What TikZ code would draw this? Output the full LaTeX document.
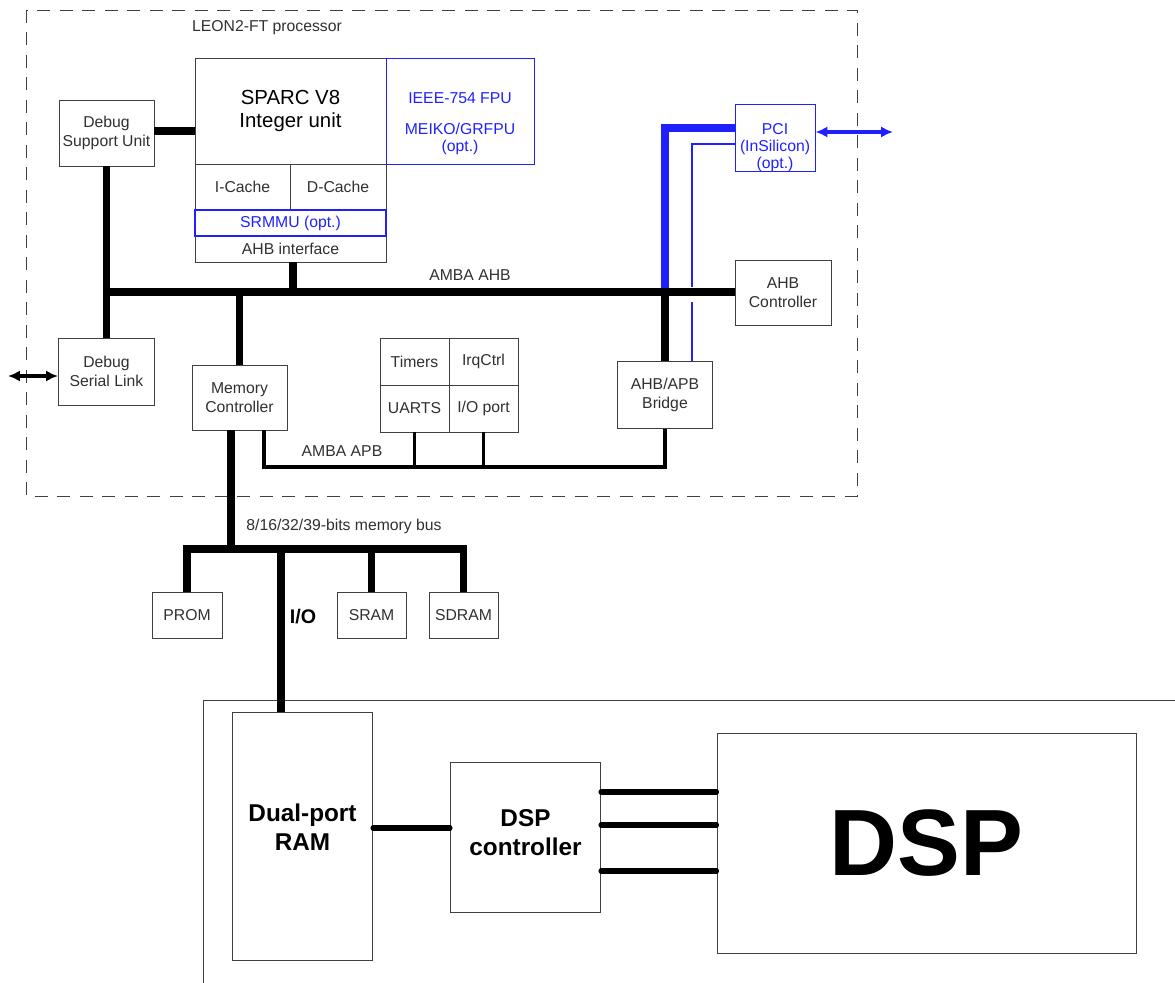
\documentclass[tikz,border=0pt]{standalone}
\usepackage{fontspec}
\setmainfont{Liberation Sans}
\usetikzlibrary{arrows.meta}

\definecolor{boxline}{HTML}{404040}
\definecolor{txtgray}{HTML}{303030}
\definecolor{pciblue}{HTML}{2020FF}

\newcommand\pxu{0.025cm}
\newcommand\lblfont{\fontsize{11.2}{13.6}\selectfont}
\newcommand\tightfont{\fontsize{11.2}{12}\selectfont}
\newcommand\iufont{\fontsize{14.5}{16.5}\selectfont}
\newcommand\iofont{\fontsize{14}{16}\selectfont\bfseries}
\newcommand\ramfont{\fontsize{17.3}{20.5}\selectfont\bfseries}
\newcommand\dspfont{\fontsize{67}{70}\selectfont\bfseries}

\tikzset{
  blk/.style 2 args={draw=boxline, line width=0.7pt, minimum width=#1*\pxu,
    minimum height=#2*\pxu, inner sep=0pt, align=center, font=\lblfont, text=txtgray},
  blueblk/.style 2 args={blk={#1}{#2}, draw=pciblue, text=pciblue},
  lbl/.style={font=\lblfont, text=txtgray, inner sep=0pt},
  bluetxt/.style={font=\tightfont, text=pciblue, align=center, inner sep=0pt},
  bus/.style={line width=5pt},
  apbline/.style={line width=2.2pt},
  pcibus/.style={draw=pciblue, line width=5.3pt},
  pcithin/.style={draw=pciblue, line width=2pt},
  link/.style={line width=3.6pt, line cap=round},
  dblarrow/.style={line width=2.2pt, {Latex[length=8.5pt,width=8pt]}-{Latex[length=8.5pt,width=8pt]}},
  frame/.style={draw=boxline, line width=0.7pt, dash pattern=on 9pt off 7pt},
}

\begin{document}
\begin{tikzpicture}[x=0.025cm,y=-0.025cm]
\useasboundingbox (0,0) rectangle (1175,983);

% LEON2-FT
\draw[frame] (26,10) rectangle (857,496);
\node[lbl] (leon) at (267,28) {LEON2-FT processor};

\node[blk={95}{66}] (dsu) at (106.5,133) {Debug\\Support Unit};
\node[blk={191}{106}, font=\iufont, text=black] (iu) at (290.5,111) {SPARC V8\\Integer unit};
\node[blueblk={148}{106}] (fpu) at (460,111) {};
\node[bluetxt, anchor=north] (fputxt) at (460,92.5) {IEEE-754 FPU\\[10pt]MEIKO/GRFPU\\(opt.)};
\node[blk={95}{46}] (icache) at (242.5,187) {I-Cache};
\node[blk={96}{46}] (dcache) at (338,187) {D-Cache};
\node[blk={191}{26}] (ahbif) at (290.5,249) {AHB interface};
\node[blueblk={191}{26}, line width=1pt] (mmu) at (290.5,223) {SRMMU (opt.)};

\node[blueblk={80}{67}] (pci) at (775,137.5) {};
\node[bluetxt, anchor=north] (pcitxt) at (775,123.5) {PCI\\(InSilicon)\\(opt.)};
\node[blk={96}{65}] (ahbctrl) at (783,292.5) {AHB\\Controller};

\node[blk={96}{67}] (dsl) at (106.5,371.5) {Debug\\Serial Link};
\node[blk={95}{65}] (memctrl) at (239.5,397.5) {Memory\\Controller};
\node[blk={69}{47}] (timers) at (414.5,361.5) {Timers};
\node[blk={69}{47}] (irqctrl) at (483.5,361.5) {IrqCtrl};
\node[blk={69}{47}] (uarts) at (414.5,408.5) {UARTS};
\node[blk={69}{47}] (ioport) at (483.5,408.5) {I/O port};
\node[blk={95}{67}] (bridge) at (665,395) {AHB/APB\\Bridge};

\coordinate (ahb) at (0,292);
\coordinate (apb) at (0,467);
\coordinate (mbus) at (0,549);

\draw[bus] (dsu.east |- 0,131) -- (iu.west |- 0,131);
\draw[bus] (dsu.south) -- (dsl.north);

% PCI lines under the AHB bus
\coordinate (gapa) at (692,287);
\coordinate (gapb) at (692,302);
\coordinate (pciext) at (893,132);
\draw[pcibus] (pci.west |- 0,128) -| (bridge.north |- ahb);
\draw[pcithin] (pci.west |- 0,144) -| (gapa);
\draw[pcithin] (gapb) -- (bridge.north -| gapb);
\draw[dblarrow, pciblue] (pci.east |- pciext) -- (pciext);

\draw[bus] (dsu.south |- ahb) -- (ahbctrl.west |- ahb);
\draw[bus] (ahbif.south -| 293,0) -- (ahb -| 293,0);
\draw[bus] (memctrl.north) -- (memctrl.north |- ahb);
\draw[bus] (bridge.north |- ahb) -- (bridge.north);
\node[lbl] (ahblbl) at (470,275) {AMBA AHB};

\coordinate (dslext) at (8,376);
\draw[dblarrow] (dslext) -- (dsl.west |- dslext);

% APB
\draw[apbline] (memctrl.south -| 264,0) |- (bridge.south |- apb) -- (bridge.south);
\draw[apbline] (uarts.south) -- (uarts.south |- apb);
\draw[apbline] (ioport.south) -- (ioport.south |- apb);
\node[lbl] (apblbl) at (342,451) {AMBA APB};

% memory bus
\node[blk={70}{46}] (prom) at (187,615) {PROM};
\node[blk={69}{46}] (sram) at (371.5,615) {SRAM};
\node[blk={69}{46}] (sdram) at (463.5,615) {SDRAM};
\node[lbl] (mbuslbl) at (344,526) {8/16/32/39-bits memory bus};

\draw[boxline, line width=0.7pt] (1175,700) -| (203,983);

\node[blk={140}{248}, font=\ramfont, text=black, text depth=12pt] (dpram) at (302.5,836) {Dual-port\\RAM};
\node[blk={150}{150}, font=\ramfont, text=black, text depth=6pt] (dspctrl) at (525.5,837) {DSP\\controller};
\node[blk={419}{220}, font=\dspfont, text=black] (dsp) at (926.5,843) {DSP};

\draw[bus] (memctrl.south -| 231,0) -- (mbus -| 231,0);
\draw[bus] (prom.north) |- (sdram.north |- mbus) -- (sdram.north);
\draw[bus] (sram.north) -- (sram.north |- mbus);
\draw[bus] (dpram.north -| 281,0) -- (mbus -| 281,0);
\node[font=\iofont] (iolbl) at (303,617) {I/O};

\draw[link] (dpram.east |- 0,828) -- (dspctrl.west |- 0,828);
\foreach \yy in {792,825,871}
  \draw[link] (dspctrl.east |- 0,\yy) -- (dsp.west |- 0,\yy);
\end{tikzpicture}
\end{document}
